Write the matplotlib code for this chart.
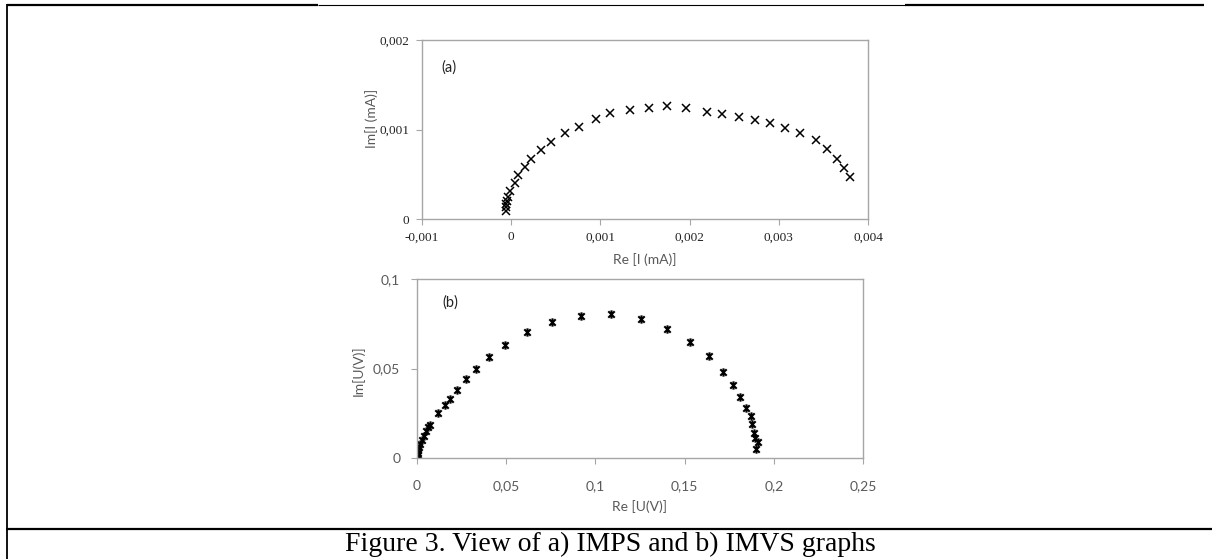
import numpy as np
import matplotlib
matplotlib.use('Agg')
import matplotlib.pyplot as plt
from matplotlib.path import Path

# (a) IMPS: Re / Im of I (mA)
IMPS_RE = [-0.000056, -0.000056, -0.000056, -0.00005, -0.00004, -0.000013, 0.00004,
           0.00008, 0.00015, 0.00022, 0.00033, 0.00045, 0.0006, 0.00076, 0.00095,
           0.00111, 0.00133, 0.00154, 0.00175, 0.00196, 0.00219, 0.00236, 0.00255,
           0.00273, 0.0029, 0.00307, 0.00324, 0.00342, 0.00354, 0.00365, 0.00373, 0.0038]
IMPS_IM = [0.000093, 0.00013, 0.000168, 0.000205, 0.000245, 0.000315, 0.0004,
           0.00049, 0.00058, 0.00067, 0.00077, 0.00086, 0.00096, 0.00103, 0.00112,
           0.00118, 0.00122, 0.00124, 0.00126, 0.00124, 0.00119, 0.00117, 0.00114,
           0.00111, 0.00107, 0.00102, 0.00096, 0.00088, 0.00078, 0.00067, 0.00057, 0.00047]

# (b) IMVS: Re / Im of U (V)
IMVS_RE = [0.0001, 0.0003, 0.0004, 0.0007, 0.0011, 0.0017, 0.0026, 0.0037, 0.0049,
           0.0064, 0.0073, 0.0116, 0.0158, 0.0183, 0.0224, 0.0274, 0.0328, 0.0406,
           0.0494, 0.0619, 0.0757, 0.0919, 0.1089, 0.1255, 0.1403, 0.153, 0.1637,
           0.1716, 0.177, 0.181, 0.1846, 0.187, 0.188, 0.1889, 0.1896, 0.191, 0.19]
IMVS_IM = [0.0006, 0.0015, 0.0028, 0.0043, 0.0061, 0.008, 0.0102, 0.0125, 0.0149,
           0.0173, 0.0186, 0.0252, 0.0294, 0.0327, 0.038, 0.0439, 0.05, 0.0565,
           0.0631, 0.0706, 0.0761, 0.0796, 0.0804, 0.0778, 0.0722, 0.0648, 0.0569,
           0.048, 0.041, 0.034, 0.0278, 0.0235, 0.0189, 0.0139, 0.011, 0.009, 0.005]

A_XTICKS = [-0.001, 0, 0.001, 0.002, 0.003, 0.004]
A_XLABELS = ['-0,001', '0', '0,001', '0,002', '0,003', '0,004']
A_YTICKS = [0, 0.001, 0.002]
A_YLABELS = ['0', '0,001', '0,002']
B_XTICKS = [0, 0.05, 0.1, 0.15, 0.2, 0.25]
B_XLABELS = ['0', '0,05', '0,1', '0,15', '0,2', '0,25']
B_YTICKS = [0, 0.05, 0.1]
B_YLABELS = ['0', '0,05', '0,1']

CAPTION = 'Figure 3. View of a) IMPS and b) IMVS graphs'

W, H = 1212, 559
SERIF = 'Liberation Serif'
SANS = 'Lato'
GREY = '#595959'
SPINE = '#a6a6a6'

# excel style star marker: an x with a vertical bar
star = Path([(-1, -1), (1, 1), (-1, 1), (1, -1), (0, -1.3), (0, 1.3)],
            [Path.MOVETO, Path.LINETO, Path.MOVETO, Path.LINETO, Path.MOVETO, Path.LINETO])


def px_axes(fig, left, top, right, bottom):
    return fig.add_axes([left / W, 1 - bottom / H, (right - left) / W, (bottom - top) / H])


def style_axes(ax, tick_font, tick_color):
    for s in ax.spines.values():
        s.set_color(SPINE)
        s.set_linewidth(1.0)
    ax.tick_params(direction='out', length=4, width=0.8, color=SPINE)
    for lab in ax.get_xticklabels() + ax.get_yticklabels():
        lab.set_family(tick_font)
        lab.set_color(tick_color)


def main():
    fig = plt.figure(figsize=(W / 100, H / 100), dpi=100)

    # panel (a)
    ax = px_axes(fig, 422, 40, 868, 219)
    ax.plot(IMPS_RE, IMPS_IM, ls='none', marker='x', ms=5.5, mew=1.1, color='black')
    ax.set_xlim(-0.001, 0.004)
    ax.set_ylim(0, 0.002)
    ax.set_xticks(A_XTICKS, A_XLABELS, fontsize=9.5)
    ax.set_yticks(A_YTICKS, A_YLABELS, fontsize=9.5)
    style_axes(ax, SERIF, '#222222')
    ax.tick_params(axis='x', pad=5)
    ax.tick_params(axis='y', pad=5)
    ax.set_xlabel('Re [I (mA)]', family=SANS, fontsize=10, color=GREY)
    ax.xaxis.set_label_coords(0.5, -0.19)
    ax.set_ylabel('Im[I (mA)]', family=SANS, fontsize=10, color=GREY)
    ax.yaxis.set_label_coords(-0.099, 0.56)
    ax.text(0.06, 0.846, '(a)', transform=ax.transAxes, family=SANS, fontsize=10.5,
            color='#222222', ha='center', va='center')

    # panel (b)
    bx = px_axes(fig, 417, 279, 863, 458)
    bx.plot(IMVS_RE, IMVS_IM, ls='none', marker=star, ms=6, mew=1.5, color='black')
    bx.set_xlim(0, 0.25)
    bx.set_ylim(0, 0.1)
    bx.set_xticks(B_XTICKS, B_XLABELS, fontsize=10)
    bx.set_yticks(B_YTICKS, B_YLABELS, fontsize=10)
    style_axes(bx, SANS, GREY)
    bx.tick_params(axis='x', pad=12)
    bx.tick_params(axis='y', pad=8)
    bx.set_xlabel('Re [U(V)]', family=SANS, fontsize=10, color=GREY)
    bx.xaxis.set_label_coords(0.5, -0.235)
    bx.set_ylabel('Im[U(V)]', family=SANS, fontsize=10, color=GREY)
    bx.yaxis.set_label_coords(-0.118, 0.49)
    bx.text(0.074, 0.87, '(b)', transform=bx.transAxes, family=SANS, fontsize=10.5,
            color='#222222', ha='center', va='center')

    # table frame round the figure
    frame = fig.add_axes([0, 0, 1, 1], zorder=-1)
    frame.set_xlim(0, W)
    frame.set_ylim(H, 0)
    frame.axis('off')
    frame.plot([7, 318], [4.5, 4.5], color='black', lw=1.6, solid_capstyle='butt')
    frame.plot([318, 905], [4.5, 4.5], color='black', lw=0.8, solid_capstyle='butt')
    frame.plot([905, 1204], [4.5, 4.5], color='black', lw=1.6, solid_capstyle='butt')
    frame.plot([6.5, 6.5], [3.5, H], color='black', lw=1.3, solid_capstyle='butt')
    frame.plot([6, W], [528.5, 528.5], color='black', lw=1.6, solid_capstyle='butt')
    frame.text(610, 551, CAPTION, family=SERIF, fontsize=20, ha='center', va='baseline')

    fig.savefig('out.png', dpi=100)


if __name__ == '__main__':
    main()
